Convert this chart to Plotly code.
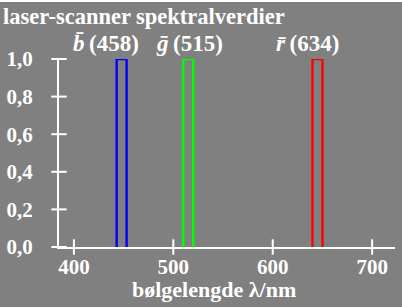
import plotly.graph_objects as go

# ---- data ----
band_names = ["b", "g", "r"]
band_labels = ["(458)", "(515)", "(634)"]
band_lo = [443, 510, 640]
band_hi = [453, 520, 650]
band_value = [1.0, 1.0, 1.0]
band_colors = ["#0000ff", "#00ff00", "#ff0000"]
x_ticks = [400, 500, 600, 700]
y_ticks = [0.0, 0.2, 0.4, 0.6, 0.8, 1.0]
y_ticktext = ["0,0", "0,2", "0,4", "0,6", "0,8", "1,0"]

BG = "#808080"
FONT = "Liberation Serif"
X_RANGE = [385, 723]
label_x = [397, 481, 601]
TOP = 2  # white strip above the figure

fig = go.Figure()

for lo, hi, v, c in zip(band_lo, band_hi, band_value, band_colors):
    fig.add_trace(go.Scatter(
        x=[lo, lo, hi, hi], y=[0, v, v, 0], mode="lines",
        line=dict(color=c, width=2.4), cliponaxis=False,
        hoverinfo="skip", showlegend=False))

# crossing tick marks
fig.add_trace(go.Scatter(
    x=x_ticks, y=[0] * len(x_ticks), mode="markers", cliponaxis=False,
    marker=dict(symbol="line-ns", size=11, line=dict(color="white", width=2)),
    hoverinfo="skip", showlegend=False))
fig.add_trace(go.Scatter(
    x=[X_RANGE[0]] * len(y_ticks), y=y_ticks, mode="markers", cliponaxis=False,
    marker=dict(symbol="line-ew", size=11, line=dict(color="white", width=2)),
    hoverinfo="skip", showlegend=False))

for name, lab, lx in zip(band_names, band_labels, label_x):
    fig.add_annotation(
        x=lx, y=1.08, xref="x", yref="paper", xanchor="left", yanchor="middle",
        text=f"<b><i>{name}\u0304</i>\u2009{lab}</b>", showarrow=False,
        font=dict(family=FONT, size=23, color="white"))

fig.add_annotation(
    x=0.461, y=-0.228, xref="paper", yref="paper", xanchor="center", yanchor="middle",
    text="<b>bølgelengde λ/nm</b>", showarrow=False,
    font=dict(family=FONT, size=22, color="white"))

H = 308 - TOP - 1
fig.update_layout(
    width=402, height=H,
    margin=dict(l=55, r=7, t=59 - TOP, b=H - (247 - TOP)),
    paper_bgcolor=BG, plot_bgcolor=BG,
    font=dict(family=FONT, size=21, color="white"),
    title=dict(text="<b>laser-scanner spektralverdier</b>", x=3 / 402, xref="container",
               xanchor="left", y=1 - (16 - TOP) / H, yanchor="middle",
               font=dict(family=FONT, size=22.5, color="white")),
    xaxis=dict(range=X_RANGE, showgrid=False, zeroline=False, showline=True,
               linecolor="white", linewidth=2, ticks="", tickvals=x_ticks,
               ticktext=[f"<b>{t}</b>" for t in x_ticks], ticklabelstandoff=0),
    yaxis=dict(range=[0, 1], showgrid=False, zeroline=False, showline=True,
               linecolor="white", linewidth=2, ticks="", tickvals=y_ticks,
               ticktext=[f"<b>{t}</b>" for t in y_ticktext], ticklabelstandoff=20),
    showlegend=False,
)

fig.write_html(
    "out.html",
    post_script=(
        "document.body.style.margin='0';"
        f"document.body.style.paddingTop='{TOP}px';"
        "document.body.style.background='white';"
    ),
)
